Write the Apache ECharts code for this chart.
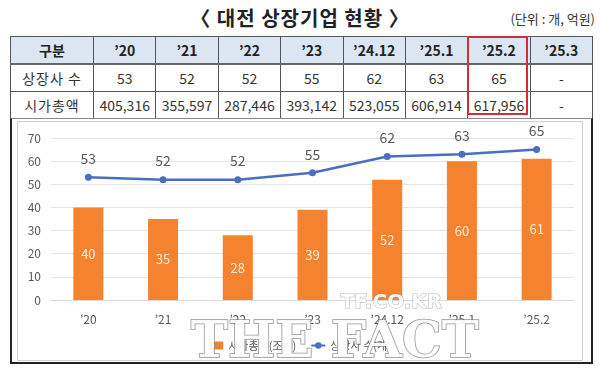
<!DOCTYPE html>
<html><head><meta charset="utf-8">
<script src="https://cdn.jsdelivr.net/npm/echarts@6/dist/echarts.min.js"></script>
<style>
html,body{margin:0;padding:0;width:600px;height:374px;background:#fff;overflow:hidden;font-family:"Noto Sans CJK KR","Noto Sans",sans-serif;}
#title{position:absolute;left:0;width:600px;top:3px;text-align:center;font-size:20px;font-weight:bold;color:#222;letter-spacing:1px;}
#unit{position:absolute;right:5px;top:9px;font-size:13px;color:#333;}
#tbl{position:absolute;left:10px;top:36px;border-collapse:collapse;table-layout:fixed;width:583px;}
#tbl td{border:1px solid #555;text-align:center;font-size:14px;color:#333;padding:0;height:26px;line-height:26px;white-space:nowrap;}
#tbl tr.h td{background:#dce6f2;font-weight:bold;color:#222;border-bottom:2px solid #666;}
#tbl td.rowh{letter-spacing:1px;}
#redbox{position:absolute;left:467px;top:36px;width:61px;height:79px;border:2px solid #d03030;box-sizing:border-box;}
#box{position:absolute;left:10px;top:118px;width:583px;height:246px;box-sizing:border-box;border:2px solid #222;border-top:1px solid #888;}
#chart{position:absolute;left:17px;top:121px;width:566px;height:240px;box-sizing:border-box;border:1px solid #d0d0d0;}
</style></head>
<body>
<div id="title">〈 대전 상장기업 현황 〉</div>
<div id="unit">(단위 : 개, 억원)</div>
<table id="tbl"></table>
<div id="redbox"></div>
<div id="box"></div>
<div id="chart"></div>
<script>
// Table data
var tableHeaders = ["구분", "’20", "’21", "’22", "’23", "’24.12", "’25.1", "’25.2", "’25.3"];
var rowListedLabel = "상장사 수";
var rowListed = ["53", "52", "52", "55", "62", "63", "65", "-"];
var rowCapLabel = "시가총액";
var rowCap = ["405,316", "355,597", "287,446", "393,142", "523,055", "606,914", "617,956", "-"];

// Chart data
var categories = ["’20", "’21", "’22", "’23", "’24.12", "’25.1", "’25.2"];
var marketCap = [40, 35, 28, 39, 52, 60, 61];      // 시가총액(조원)
var listedCount = [53, 52, 52, 55, 62, 63, 65];    // 상장사 수(개)
var yTicks = [0, 10, 20, 30, 40, 50, 60, 70];

// build table
var tbl = document.getElementById('tbl');
function addRow(cells, cls, firstCls) {
  var tr = document.createElement('tr');
  if (cls) tr.className = cls;
  cells.forEach(function (c, i) {
    var td = document.createElement('td');
    td.textContent = c;
    if (i === 0) { td.style.width = '82px'; if (firstCls) td.className = firstCls; }
    tr.appendChild(td);
  });
  tbl.appendChild(tr);
}
addRow(tableHeaders, 'h');
addRow([rowListedLabel].concat(rowListed), '', 'rowh');
addRow([rowCapLabel].concat(rowCap), '', 'rowh');

var chart = echarts.init(document.getElementById('chart'));
var font = '"Noto Sans CJK KR","Noto Sans",sans-serif';
chart.setOption({
  animation: false,
  textStyle: { fontFamily: font },
  grid: { left: 33, right: 8, top: 16, bottom: 60 },
  legend: {
    bottom: 4, left: 'center',
    itemWidth: 14, itemHeight: 8, itemGap: 14,
    textStyle: { color: '#595959', fontSize: 11, fontFamily: font },
    data: [
      { name: '시가총액(조원)', icon: 'rect' },
      { name: '상장사 수(개)' }
    ]
  },
  xAxis: {
    type: 'category', data: categories,
    axisLine: { lineStyle: { color: '#d9d9d9' } },
    axisTick: { show: false },
    axisLabel: { color: '#595959', fontSize: 12, margin: 13, fontFamily: font }
  },
  yAxis: {
    type: 'value', min: yTicks[0], max: yTicks[yTicks.length - 1], interval: 10,
    axisLine: { show: false }, axisTick: { show: false },
    axisLabel: { color: '#595959', fontSize: 12, margin: 10, fontFamily: font },
    splitLine: { lineStyle: { color: '#e3e3e3' } }
  },
  series: [
    {
      name: '시가총액(조원)', type: 'bar', data: marketCap, barWidth: 30,
      itemStyle: { color: '#f5822e' },
      label: { show: true, position: 'inside', color: 'rgba(255,255,255,0.85)', fontSize: 13, fontFamily: font }
    },
    {
      name: '상장사 수(개)', type: 'line', data: listedCount,
      symbol: 'circle', symbolSize: 7,
      lineStyle: { color: '#4a6fbf', width: 2.5 },
      itemStyle: { color: '#4a6fbf' },
      label: { show: true, position: 'top', distance: 8, color: '#595959', fontSize: 14, fontFamily: font }
    }
  ],
  graphic: [
    {
      type: 'text', left: 322, top: 170, z: 100,
      style: { text: 'TF.CO.KR', fontSize: 20, fontWeight: 'bold', fontFamily: '"DejaVu Sans", sans-serif',
        fill: 'rgba(255,255,255,0.9)', stroke: 'rgba(150,150,150,0.7)', lineWidth: 1 }
    },
    {
      type: 'text', left: 172, top: 196, z: 100,
      style: { text: 'THE FACT', fontSize: 50, fontWeight: 'bold', fontFamily: '"DejaVu Serif", "Liberation Serif", serif',
        fill: 'rgba(255,255,255,0.92)', stroke: 'rgba(120,120,120,0.8)', lineWidth: 1.5 }
    }
  ]
});
</script>
</body></html>
